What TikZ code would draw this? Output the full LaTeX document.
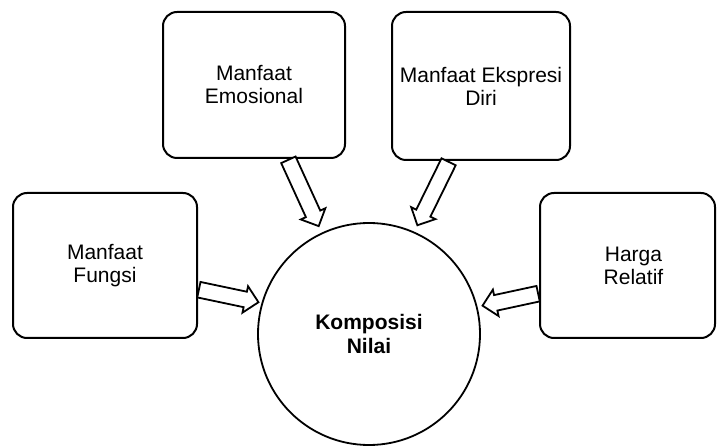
\documentclass[tikz,border=0pt]{standalone}
\usepackage{fontspec}
\setmainfont{Liberation Sans}
\usepackage{tikz}
\usetikzlibrary{calc,shapes.arrows}

\tikzset{
kotak/.style={draw, line width=1pt, rounded corners=7pt, align=center, inner sep=2pt,
  font=\fontsize{10.5}{11.5}\selectfont},
bulat/.style={draw, circle, line width=0.9pt, minimum size=111pt, align=center, inner sep=0pt,
  font=\bfseries\fontsize{10.5}{12}\selectfont},
panah/.style={single arrow, draw, fill=white, line width=0.9pt, inner xsep=0pt, inner ysep=3.5pt,
  single arrow head extend=2.8pt, anchor=tail}
}
\newcommand{\panahke}[2]{\path let \p1=($(#2)-(#1)$), \n1={atan2(\y1,\x1)},
  \n2={veclen(\x1,\y1)} in node[panah, minimum height=\n2, rotate=\n1] at (#1) {};}

\begin{document}
\begin{tikzpicture}[x=0.5pt, y=-0.5pt]
\useasboundingbox (0,0) rectangle (717,448);

\node[kotak, minimum width=91pt, minimum height=73pt] (emosi) at (254,85) {Manfaat\\Emosional};
\node[kotak, minimum width=89pt, minimum height=74pt] (ekspresi) at (481,86) {Manfaat Ekspresi\\Diri};
\node[kotak, minimum width=92pt, minimum height=72.5pt] (fungsi) at (105,265.5) {Manfaat\\Fungsi};
\node[kotak, minimum width=87.5pt, minimum height=72.5pt] (harga) at (627.5,265.5) {\hspace*{6pt}Harga\\\hspace*{6pt}Relatif};
\node[bulat] (nilai) at (369,334) {Komposisi\\Nilai};

\coordinate (a1) at ([xshift=17pt]emosi.south);
\coordinate (b1) at ([shift={(115:4pt)}]nilai.115);
\coordinate (a2) at ([xshift=-16pt]ekspresi.south);
\coordinate (b2) at ([shift={(66:4pt)}]nilai.66);
\coordinate (a3) at ([yshift=-12pt]fungsi.east);
\coordinate (b3) at ([shift={(164:2pt)}]nilai.164);
\coordinate (a4) at ([yshift=-14pt]harga.west);
\coordinate (b4) at ([shift={(14:3pt)}]nilai.14);

\panahke{a1}{b1}
\panahke{a2}{b2}
\panahke{a3}{b3}
\panahke{a4}{b4}
\end{tikzpicture}
\end{document}
